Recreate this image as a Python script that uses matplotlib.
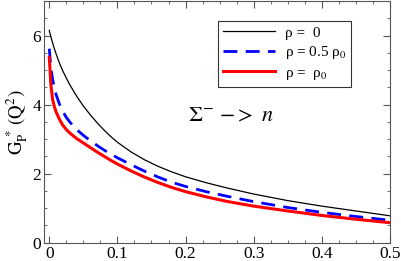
import matplotlib
matplotlib.use("Agg")
import matplotlib.pyplot as plt
from matplotlib.ticker import MultipleLocator

# values (Q^2 in GeV^2)
q2 = [0.0, 0.0025, 0.005, 0.0075, 0.01, 0.015, 0.02, 0.025, 0.03, 0.04, 0.05, 0.06, 0.07,
      0.08, 0.09, 0.1, 0.12, 0.14, 0.16, 0.18, 0.2, 0.23, 0.26, 0.3, 0.35, 0.4, 0.45, 0.5]

gp_rho0 = [6.15, 5.95, 5.78, 5.62, 5.47, 5.2, 4.97, 4.77, 4.58, 4.25, 3.96, 3.71, 3.48,
           3.27, 3.08, 2.91, 2.63, 2.40, 2.21, 2.05, 1.91, 1.74, 1.59, 1.41, 1.22, 1.06,
           0.92, 0.78]
gp_rho_half = [5.62, 5.05, 4.72, 4.48, 4.29, 4.01, 3.8, 3.63, 3.5, 3.28, 3.11, 2.96, 2.82,
               2.69, 2.57, 2.46, 2.26, 2.07, 1.90, 1.75, 1.63, 1.48, 1.35, 1.19, 1.02,
               0.88, 0.76, 0.65]
gp_rho_full = [5.37, 4.55, 4.14, 3.94, 3.79, 3.57, 3.4, 3.28, 3.18, 3.02, 2.89, 2.76, 2.63,
               2.51, 2.39, 2.28, 2.08, 1.90, 1.74, 1.60, 1.48, 1.33, 1.20, 1.06, 0.92,
               0.79, 0.68, 0.58]

labels = ["ρ =  0", "ρ = 0.5 ρ$_0$", "ρ =  ρ$_0$"]

plt.rcParams["font.family"] = "Liberation Serif"
plt.rcParams["mathtext.fontset"] = "stix"

fig = plt.figure(figsize=(4.02, 2.61), dpi=100)
ax = fig.add_axes([0.109, 0.07, 0.861, 0.926])

ax.plot(q2, gp_rho0, color="black", lw=0.9, label=labels[0])
ax.plot(q2, gp_rho_half, color="#0000ff", lw=2.0, dashes=(5, 3), label=labels[1])
ax.plot(q2, gp_rho_full, color="#ff0000", lw=2.2, label=labels[2])

ax.set_xlim(-0.008, 0.5)
ax.set_ylim(0, 7)
ax.xaxis.set_major_locator(MultipleLocator(0.1))
ax.xaxis.set_minor_locator(MultipleLocator(0.025))
ax.yaxis.set_major_locator(MultipleLocator(2))
ax.yaxis.set_minor_locator(MultipleLocator(0.5))
ax.set_xticks([0, 0.1, 0.2, 0.3, 0.4, 0.5])
ax.set_xticklabels(["0", "0.1", "0.2", "0.3", "0.4", "0.5"])
ax.tick_params(which="both", direction="in", top=True, right=True, labelsize=12.5,
               color="#555555", pad=2)
ax.tick_params(which="major", length=5)
ax.tick_params(which="minor", length=2.5)
for s in ax.spines.values():
    s.set_color("#555555")

ax.set_ylabel(r"$\mathrm{G_P^{\ *}\,(Q^2)}$", fontsize=13.5, labelpad=2)

ax.text(0.267, 3.65, r"$\Sigma^{-}\ {-}{>}\ n$", fontsize=16, ha="center", va="center")

leg = ax.legend(loc="upper right", bbox_to_anchor=(0.911, 0.95), fontsize=11,
                frameon=True, fancybox=False, edgecolor="black", handlelength=3.4,
                borderpad=0.35, labelspacing=0.3, handletextpad=0.6)
leg.get_frame().set_linewidth(0.8)

fig.savefig("out.png", dpi=100)
